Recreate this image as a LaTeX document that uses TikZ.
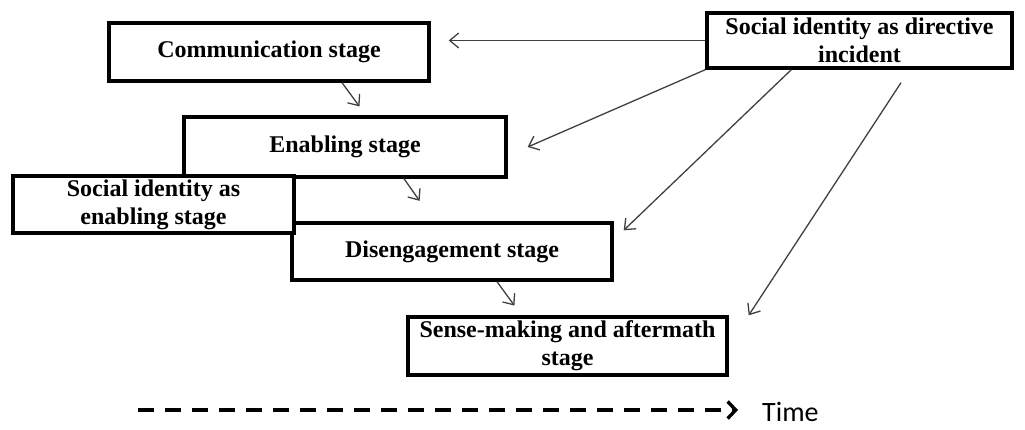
\documentclass[tikz,border=0pt]{standalone}
\usepackage{fontspec}
\setmainfont{Liberation Serif}
\newfontfamily\timefont{Carlito}
\usepackage{tikz}
\usetikzlibrary{arrows.meta, calc}
\tikzset{
    stagebox/.style={rectangle, draw, line width=3.4pt, fill=white, align=center, inner sep=0pt,
        font=\fontsize{24}{28}\selectfont\bfseries},
    arrow/.style={-{Straight Barb[length=9pt,width=15pt,line width=1.3pt]}, line width=1.3pt, draw=black!75},
    timearrow/.style={-{Straight Barb[length=8pt,width=17pt,line width=3.4pt]}, line width=3.6pt,
        dash pattern=on 16pt off 11pt}
}

\begin{document}
\begin{tikzpicture}[x=1pt, y=-1pt]
    \useasboundingbox (0,0) rectangle (1025,430);

    \node[stagebox, minimum width=320pt, minimum height=58pt] (comm) at (269,52) {Communication stage};
    \node[stagebox, minimum width=305pt, minimum height=55pt] (directive) at (859.5,40.5) {Social identity as directive\\incident};
    \node[stagebox, minimum width=322pt, minimum height=60pt] (enab) at (345,147) {Enabling stage};
    \node[stagebox, minimum width=320pt, minimum height=57pt] (dis) at (452,251.5) {Disengagement stage};
    \node[stagebox, minimum width=281pt, minimum height=57pt] (socen) at (153.5,204.5) {Social identity as\\enabling stage};
    \node[stagebox, minimum width=319pt, minimum height=58pt] (sense) at (567.5,346) {Sense-making and aftermath\\stage};

    % stage to stage
    \draw[arrow, shorten >=11pt] ([xshift=73pt]comm.south) -- ([xshift=21pt]enab.north);
    \draw[arrow, shorten >=25pt] ([xshift=59pt]enab.south) -- ([xshift=-18pt]dis.north);
    \draw[arrow, shorten >=12pt] ([xshift=45pt]dis.south) -- ([xshift=-46pt]sense.north);

    % directive incident
    \draw[arrow, shorten >=18pt] (directive.west) -- (directive.west -| comm.east);
    \draw[arrow] (directive.south west) -- ([xshift=20pt]enab.east);
    \draw[arrow] ([xshift=86pt]directive.south west) -- ([xshift=10pt,yshift=-9pt]dis.north east);
    \draw[arrow, shorten <=15.5pt] ([xshift=50pt]directive.south) -- ([xshift=20pt]sense.north east);

    % time line
    \coordinate (tstart) at (138,410);
    \node[font=\timefont\fontsize{28}{30}\selectfont, anchor=west, inner sep=0pt] (time) at (762,412) {Time};
    \draw[timearrow, shorten >=24pt] (tstart) -- (tstart -| time.west);
\end{tikzpicture}
\end{document}
